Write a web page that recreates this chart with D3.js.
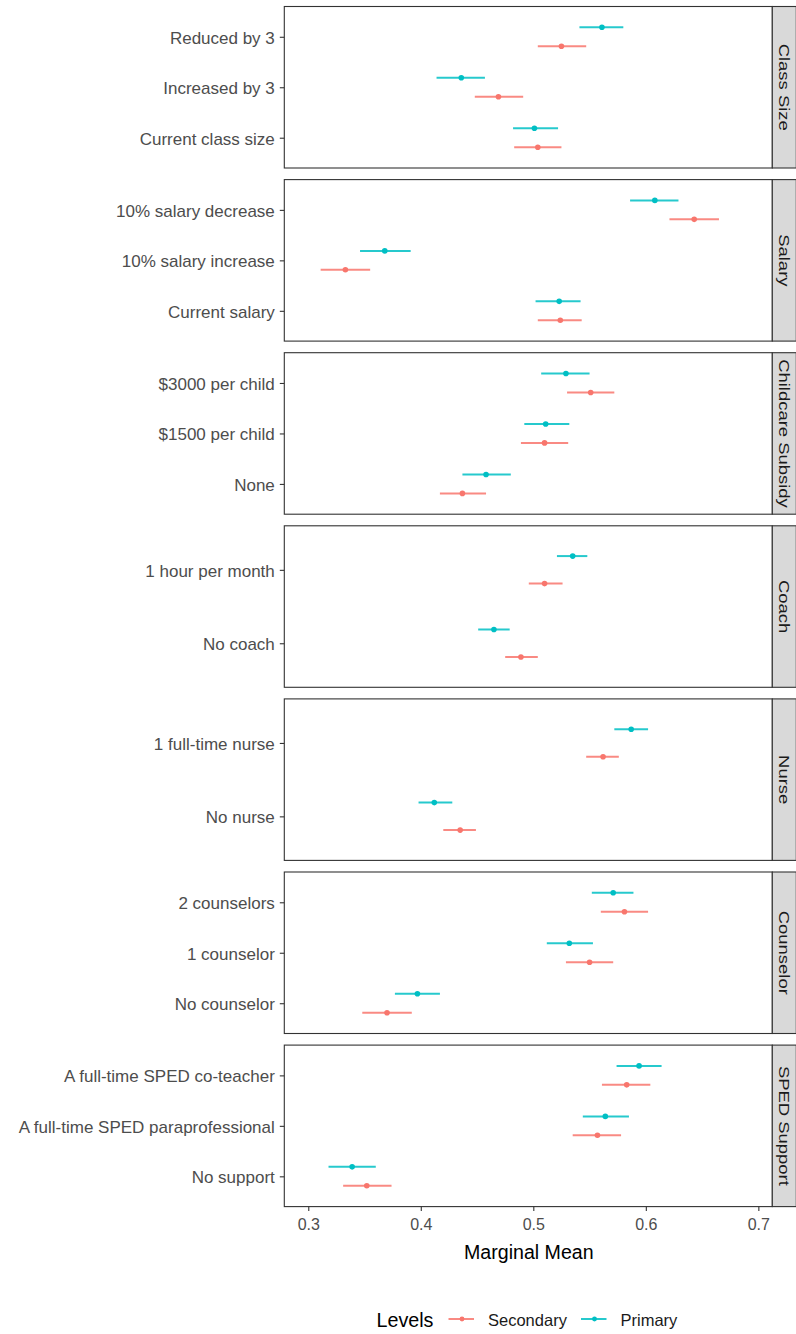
<!DOCTYPE html>
<html>
<head>
<meta charset="utf-8">
<script src="https://cdn.jsdelivr.net/npm/d3@7"></script>
<style>
  html, body { margin: 0; padding: 0; background: #fff; }
  svg { display: block; }
  text { font-family: "Liberation Sans", Arial, sans-serif; }
</style>
</head>
<body>
<svg id="chart" width="796" height="1334"></svg>
<script>
// Conjoint attributes (one facet each) and their levels, top to bottom
const factors = ["Class Size", "Salary", "Childcare Subsidy", "Coach", "Nurse", "Counselor", "SPED Support"];
const levelLabels = [
  ["Reduced by 3", "Increased by 3", "Current class size"],
  ["10% salary decrease", "10% salary increase", "Current salary"],
  ["$3000 per child", "$1500 per child", "None"],
  ["1 hour per month", "No coach"],
  ["1 full-time nurse", "No nurse"],
  ["2 counselors", "1 counselor", "No counselor"],
  ["A full-time SPED co-teacher", "A full-time SPED paraprofessional", "No support"]
];

// Marginal means with 95% interval bounds, Primary teachers
const primaryMean = [
  [0.561, 0.436, 0.501], [0.608, 0.368, 0.523], [0.529, 0.511, 0.458],
  [0.535, 0.465], [0.587, 0.412], [0.571, 0.532, 0.397], [0.594, 0.564, 0.339]
];
const primaryLow = [
  [0.541, 0.414, 0.482], [0.586, 0.346, 0.502], [0.507, 0.492, 0.437],
  [0.521, 0.451], [0.572, 0.398], [0.552, 0.512, 0.377], [0.574, 0.544, 0.318]
];
const primaryHigh = [
  [0.580, 0.457, 0.522], [0.629, 0.391, 0.542], [0.550, 0.532, 0.480],
  [0.548, 0.479], [0.602, 0.428], [0.589, 0.553, 0.417], [0.614, 0.585, 0.360]
];

// Marginal means with 95% interval bounds, Secondary teachers
const secondaryMean = [
  [0.525, 0.469, 0.504], [0.643, 0.333, 0.524], [0.551, 0.510, 0.437],
  [0.510, 0.489], [0.562, 0.435], [0.581, 0.550, 0.370], [0.583, 0.557, 0.352]
];
const secondaryLow = [
  [0.504, 0.448, 0.483], [0.621, 0.311, 0.504], [0.530, 0.489, 0.417],
  [0.496, 0.475], [0.547, 0.420], [0.560, 0.529, 0.348], [0.561, 0.535, 0.331]
];
const secondaryHigh = [
  [0.547, 0.491, 0.525], [0.665, 0.355, 0.543], [0.572, 0.531, 0.458],
  [0.526, 0.504], [0.576, 0.449], [0.602, 0.571, 0.392], [0.604, 0.578, 0.374]
];

const xTicks = [0.3, 0.4, 0.5, 0.6, 0.7];
const seriesNames = ["Secondary", "Primary"];
const seriesColors = ["#F8766D", "#00BFC4"];

// ---- layout ----
const plotLeft = 284.3, plotRight = 772.3;
const stripW = 24;
const panelTop = 6.5, panelH = 161.5, panelGap = 11.6;
const dodge = 0.1875; // half of a 0.75 dodge width, split over two groups
const tickFont = "17px";

const svg = d3.select("#chart");

const x = d3.scaleLinear().domain([0.2787, 0.7124]).range([plotLeft, plotRight]);
const color = d3.scaleOrdinal().domain(seriesNames).range(seriesColors);

const series = [
  { name: "Primary", mean: primaryMean, low: primaryLow, high: primaryHigh, side: -1 },
  { name: "Secondary", mean: secondaryMean, low: secondaryLow, high: secondaryHigh, side: 1 }
];

factors.forEach((factor, fi) => {
  const top = panelTop + fi * (panelH + panelGap);
  const bottom = top + panelH;
  const levels = levelLabels[fi];
  const y = d3.scalePoint().domain(levels).range([top, bottom]).padding(0.6);
  const step = y.step();

  const g = svg.append("g").attr("class", "panel");

  // panel background
  g.append("rect")
    .attr("x", plotLeft).attr("y", top)
    .attr("width", plotRight - plotLeft).attr("height", panelH)
    .attr("fill", "#fff");

  // y axis tick labels
  const yAxis = d3.axisLeft(y).tickSize(4.5).tickPadding(5);
  const ya = g.append("g").attr("transform", `translate(${plotLeft},0)`).call(yAxis);
  ya.select(".domain").remove();
  ya.selectAll(".tick line").attr("stroke", "#333").attr("stroke-width", 1.1);
  ya.selectAll(".tick text")
    .attr("fill", "#4D4D4D")
    .attr("dy", "0.38em")
    .style("font-size", tickFont)
    .style("font-family", "'Liberation Sans', Arial, sans-serif");

  // interval lines and points
  series.forEach(s => {
    const c = color(s.name);
    const rows = levels.map((lv, li) => ({
      level: lv, mean: s.mean[fi][li], low: s.low[fi][li], high: s.high[fi][li]
    }));
    const yy = d => y(d.level) + s.side * dodge * step;
    g.selectAll(null).data(rows).enter().append("line")
      .attr("x1", d => x(d.low)).attr("x2", d => x(d.high))
      .attr("y1", yy).attr("y2", yy)
      .attr("stroke", c).attr("stroke-width", 2).attr("stroke-opacity", 0.85);
    g.selectAll(null).data(rows).enter().append("circle")
      .attr("cx", d => x(d.mean)).attr("cy", yy).attr("r", 2.8)
      .attr("fill", c);
  });

  // panel border
  g.append("rect")
    .attr("x", plotLeft).attr("y", top)
    .attr("width", plotRight - plotLeft).attr("height", panelH)
    .attr("fill", "none").attr("stroke", "#333").attr("stroke-width", 1.1);

  // facet strip on the right
  g.append("rect")
    .attr("x", plotRight).attr("y", top)
    .attr("width", stripW).attr("height", panelH)
    .attr("fill", "#D9D9D9").attr("stroke", "#333").attr("stroke-width", 1.1);
  g.append("text")
    .attr("transform", `translate(${plotRight + 11.5},${top + panelH / 2}) rotate(90) scale(1.3,1)`)
    .attr("text-anchor", "middle").attr("dominant-baseline", "central")
    .attr("fill", "#1A1A1A").style("font-size", "14.2px")
    .text(factor);

  // x axis below the last panel
  if (fi === factors.length - 1) {
    const xAxis = d3.axisBottom(x).tickValues(xTicks).tickFormat(d3.format(".1f")).tickSize(4.5).tickPadding(8);
    const xa = g.append("g").attr("transform", `translate(0,${bottom})`).call(xAxis);
    xa.select(".domain").remove();
    xa.selectAll(".tick line").attr("stroke", "#333").attr("stroke-width", 1.1);
    xa.selectAll(".tick text")
      .attr("fill", "#4D4D4D")
      .style("font-size", "16px")
      .style("font-family", "'Liberation Sans', Arial, sans-serif");
    svg.append("text")
      .attr("x", (plotLeft + plotRight) / 2 + 0.5).attr("y", bottom + 45.5)
      .attr("text-anchor", "middle").attr("dominant-baseline", "central")
      .attr("fill", "#000").style("font-size", "19.6px")
      .text("Marginal Mean");
  }
});

// ---- legend ----
const legendY = 1320;
const legend = svg.append("g");
legend.append("text")
  .attr("x", 376.5).attr("y", legendY)
  .attr("dominant-baseline", "central").attr("fill", "#000")
  .style("font-size", "19.7px").text("Levels");

const legendItems = [
  { name: "Secondary", x0: 448.5 },
  { name: "Primary", x0: 581 }
];
legendItems.forEach(it => {
  const c = color(it.name);
  legend.append("line")
    .attr("x1", it.x0).attr("x2", it.x0 + 25.5)
    .attr("y1", legendY - 1).attr("y2", legendY - 1)
    .attr("stroke", c).attr("stroke-width", 2).attr("stroke-opacity", 0.85);
  legend.append("circle")
    .attr("cx", it.x0 + 13.5).attr("cy", legendY - 1).attr("r", 2.4).attr("fill", c);
  legend.append("text")
    .attr("x", it.x0 + 39.5).attr("y", legendY)
    .attr("dominant-baseline", "central").attr("fill", "#1A1A1A")
    .style("font-size", "16.5px")
    .text(it.name);
});
</script>
</body>
</html>
